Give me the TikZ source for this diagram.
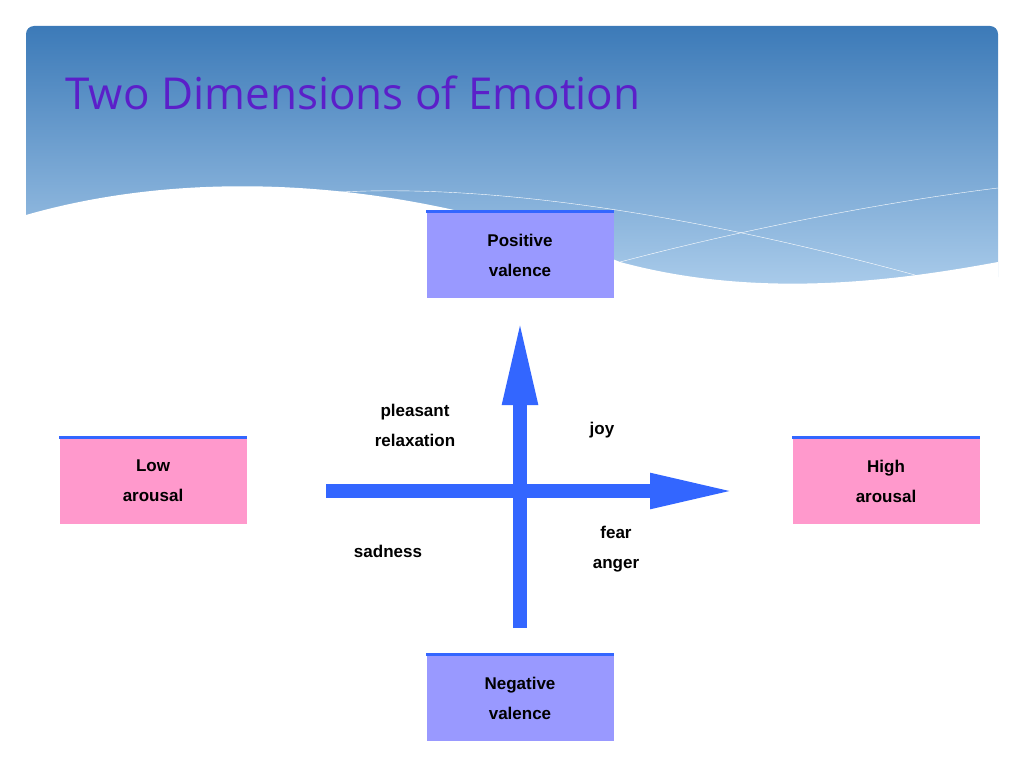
\documentclass[tikz,border=0pt]{standalone}
\usepackage{fontspec}
\setmainfont{Liberation Sans}
\newfontfamily\titlefont{Open Sans}
\usetikzlibrary{arrows.meta}
\definecolor{headtop}{HTML}{3C7AB8}
\definecolor{headbot}{HTML}{A9CBEA}
\definecolor{valfill}{HTML}{9999FF}
\definecolor{arofill}{HTML}{FF99CC}
\definecolor{topline}{HTML}{3366FF}
\definecolor{axis}{HTML}{3366FF}
\definecolor{titlecol}{HTML}{5B1FC9}
\tikzset{
    pole/.style = {
        minimum width  = 187pt,
        minimum height = 86pt,
        align          = center,
        font           = \fontsize{17}{30}\selectfont\bfseries,
    },
    word/.style = {
        align = center,
        font  = \fontsize{17}{30}\selectfont\bfseries,
    },
    axisline/.style = {
        axis,
        line width = 14pt,
        -{Triangle[length=87pt,width=32pt]},
    }
}

\begin{document}
\begin{tikzpicture}[x=1pt, y=-1pt]
  % fixed page frame
  \path[use as bounding box] (0,0) rectangle (1024,768);

  % banner
  \shade[top color=headtop, bottom color=headbot, rounded corners=8pt]
    (26,285) -- (26,26) -- (998,26) -- (998,285) -- cycle;
  \fill[white] (26,215) .. controls (200,165) and (420,180) .. (620,262)
    .. controls (760,300) and (900,280) .. (998,262) -- (998,290) -- (26,290) -- cycle;
  \draw[white, thin] (300,195) .. controls (500,175) and (750,230) .. (915,275);
  \draw[white, thin] (620,262) .. controls (760,225) and (900,200) .. (998,188);
  \node[anchor=west, text=titlecol, font=\titlefont\fontsize{44}{50}\selectfont]
    (title) at (62,93) {Two Dimensions of Emotion};

  % the four poles
  \node[pole, fill=valfill] (pos) at (520,255) {Positive\\valence};
  \node[pole, fill=valfill] (neg) at (520,698) {Negative\\valence};
  \node[pole, fill=arofill] (low) at (153,481) {Low\\arousal};
  \node[pole, fill=arofill] (high) at (886,481) {High\\arousal};
  \foreach \n in {pos, neg, low, high}
    \draw[topline, line width=3pt] (\n.north west) -- (\n.north east);

  % axes
  \coordinate (xs) at (326,491);
  \coordinate (xe) at (737,491);
  \coordinate (ys) at (520,628);
  \coordinate (ye) at (520,318);
  \draw[axisline] (xs) -- (xe);
  \draw[axisline] (ys) -- (ye);

  % quadrant words
  \node[word] (relax) at (415,425) {pleasant\\relaxation};
  \node[word] (joy) at (602,430) {joy};
  \node[word] (sad) at (388,551) {sadness};
  \node[word] (fear) at (616,549) {fear\\anger};
\end{tikzpicture}
\end{document}
